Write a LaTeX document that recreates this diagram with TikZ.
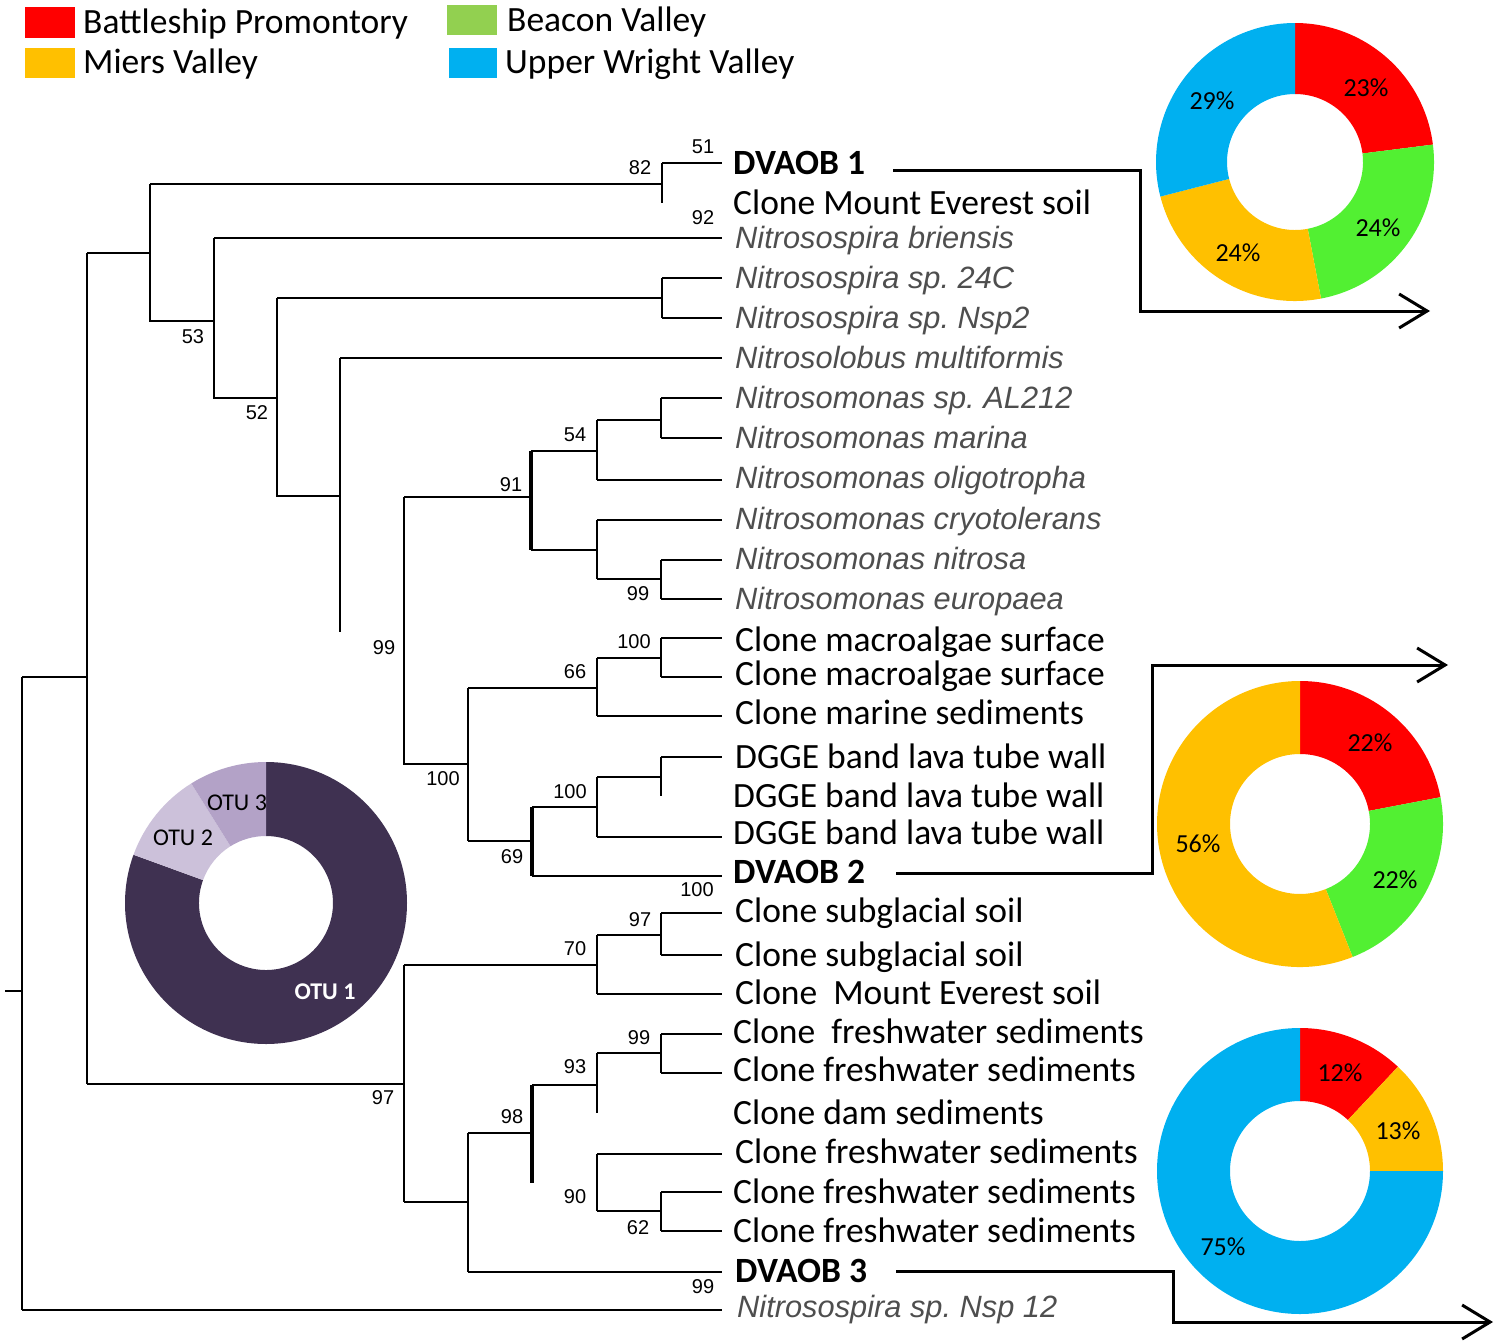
\documentclass[tikz,border=0pt]{standalone}
\usepackage{fontspec}
\setmainfont{Carlito}
\newfontfamily\arialf{Liberation Sans}
\usetikzlibrary{arrows.meta,calc}
\definecolor{cRed}{HTML}{FF0000}
\definecolor{cGreen}{HTML}{52F032}
\definecolor{cLegGreen}{HTML}{92D050}
\definecolor{cYellow}{HTML}{FFC000}
\definecolor{cBlue}{HTML}{00B0F0}
\definecolor{otuA}{HTML}{3F3151}
\definecolor{otuB}{HTML}{CCC1DA}
\definecolor{otuC}{HTML}{B3A2C7}
\definecolor{spgray}{HTML}{4E4E4E}
\newcommand\ringseg[6]{%
  \fill[#6] (#1) ++(#2:#4) arc[start angle=#2,end angle=#3,radius=#4]
    -- ($(#1)+(#3:#5)$) arc[start angle=#3,end angle=#2,radius=#5] -- cycle;}
\frenchspacing
\begin{document}
\begin{tikzpicture}[x=1pt,y=-1pt,
  br/.style={draw=black,line width=1.8pt},
  brt/.style={draw=black,line width=3.2pt},
  leaf/.style={anchor=west,inner sep=0pt,text height=27pt,text depth=5pt,font=\fontsize{35.5}{40}\selectfont},
  bleaf/.style={leaf,font=\bfseries\fontsize{35.5}{40}\selectfont},
  spec/.style={anchor=west,inner sep=0pt,text height=25pt,text depth=4pt,text=spgray,font=\arialf\itshape\fontsize{30.8}{34}\selectfont},
  boot/.style={inner sep=0pt,font=\arialf\fontsize{20}{22}\selectfont},
  legtxt/.style={anchor=west,inner sep=0pt,text height=27pt,text depth=5pt,font=\fontsize{35.5}{40}\selectfont},
  pct/.style={inner sep=0pt,font=\fontsize{26}{28}\selectfont},
  otu/.style={inner sep=0pt,font=\fontsize{24}{26}\selectfont},
  conn/.style={draw=black,line width=3pt,-{Straight Barb[length=28pt,width=34pt]}}]
\useasboundingbox (0,0) rectangle (1500,1344);
% legend
\fill[cRed] (25,7) rectangle (75,38);
\fill[cYellow] (25,48) rectangle (75,78);
\fill[cLegGreen] (447,5) rectangle (497,35);
\fill[cBlue] (449,48) rectangle (497,78);
\node[legtxt] (lg1) at (83,22) {Battleship Promontory};
\node[legtxt] (lg2) at (83,62) {Miers Valley};
\node[legtxt] (lg3) at (507,20) {Beacon Valley};
\node[legtxt] (lg4) at (505,62) {Upper Wright Valley};
% donuts
\coordinate (d1) at (1295,162);
\ringseg{d1}{90}{7.2}{139pt}{68pt}{cRed}
\ringseg{d1}{7.2}{-79.2}{139pt}{68pt}{cGreen}
\ringseg{d1}{-79.2}{-165.6}{139pt}{68pt}{cYellow}
\ringseg{d1}{-165.6}{-270}{139pt}{68pt}{cBlue}
\node[pct] (p11) at (1366,88) {23\%};
\node[pct] (p12) at (1378,228) {24\%};
\node[pct] (p13) at (1238,253) {24\%};
\node[pct] (p14) at (1212,101) {29\%};
\coordinate (d2) at (1300,824);
\ringseg{d2}{90}{10.8}{143pt}{70pt}{cRed}
\ringseg{d2}{10.8}{-68.4}{143pt}{70pt}{cGreen}
\ringseg{d2}{-68.4}{-270}{143pt}{70pt}{cYellow}
\node[pct] (p21) at (1370,743) {22\%};
\node[pct] (p22) at (1395,880) {22\%};
\node[pct] (p23) at (1198,844) {56\%};
\coordinate (d3) at (1300,1171);
\ringseg{d3}{90}{46.8}{143pt}{70pt}{cRed}
\ringseg{d3}{46.8}{0}{143pt}{70pt}{cYellow}
\ringseg{d3}{0}{-270}{143pt}{70pt}{cBlue}
\node[pct] (p31) at (1340,1073) {12\%};
\node[pct] (p32) at (1398,1131) {13\%};
\node[pct] (p33) at (1223,1247) {75\%};
\coordinate (d4) at (266,903);
\ringseg{d4}{90}{-200}{141pt}{67pt}{otuA}
\ringseg{d4}{160}{122}{141pt}{67pt}{otuB}
\ringseg{d4}{122}{90}{141pt}{67pt}{otuC}
\node[otu] (o3) at (237,803) {OTU 3};
\node[otu] (o2) at (183,838) {OTU 2};
\node[otu,text=white,font=\bfseries\fontsize{24}{26}\selectfont] (o1) at (325,992) {OTU 1};
% tree: tips
\draw[br] (662,163)--(722,163) (214,238)--(722,238) (662,278)--(722,278) (662,318)--(722,318)
  (340,358)--(722,358) (661,398)--(722,398) (661,438)--(722,438) (597,480)--(722,480)
  (597,520)--(722,520) (661,560)--(722,560) (661,599)--(722,599) (661,638)--(722,638)
  (661,677)--(722,677) (597,716)--(722,716) (661,757)--(722,757) (597,837)--(722,837)
  (532,876)--(722,876) (661,913)--(722,913) (661,955)--(722,955) (597,994)--(722,994)
  (661,1034)--(722,1034) (661,1073)--(722,1073) (597,1154)--(722,1154) (661,1192)--(722,1192)
  (661,1231)--(722,1231) (468,1272)--(722,1272) (22,1310)--(722,1310);
% tree: internal
\draw[br] (662,163)--(662,203) (150,184)--(662,184)
  (662,278)--(662,318) (277,298)--(662,298)
  (150,184)--(150,321)--(214,321)
  (214,238)--(214,398)--(277,398)
  (277,298)--(277,496)--(340,496)
  (340,358)--(340,632)
  (661,398)--(661,438) (597,420)--(661,420)
  (597,420)--(597,480) (531,451)--(597,451)
  (661,560)--(661,599) (597,579)--(661,579)
  (597,520)--(597,579) (531,550)--(597,550)
  (404,497)--(531,497)
  (404,497)--(404,764)--(468,764)
  (661,638)--(661,677) (597,658)--(661,658)
  (597,658)--(597,716) (468,688)--(597,688)
  (661,757)--(661,796) (597,777)--(661,777)
  (597,777)--(597,837) (532,807)--(597,807)
  (468,841)--(532,841) (468,688)--(468,841)
  (661,913)--(661,955) (597,935)--(661,935)
  (597,935)--(597,994) (404,965)--(597,965)
  (661,1034)--(661,1073) (597,1053)--(661,1053)
  (597,1053)--(597,1113) (532,1085)--(597,1085)
  (468,1133)--(532,1133)
  (661,1192)--(661,1231) (597,1211)--(661,1211)
  (597,1154)--(597,1211)
  (468,1133)--(468,1272) (404,1202)--(468,1202)
  (404,965)--(404,1202) (87,1084)--(404,1084)
  (87,253)--(87,1084) (87,253)--(150,253)
  (22,677)--(87,677) (22,677)--(22,1310) (5,991)--(22,991);
\draw[brt] (531,451)--(531,550) (532,807)--(532,876) (532,1085)--(532,1183);
% bootstrap values
\node[boot] (b1) at (703,147) {51};
\node[boot] (b2) at (640,168) {82};
\node[boot] (b3) at (703,218) {92};
\node[boot] (b4) at (193,337) {53};
\node[boot] (b5) at (257,413) {52};
\node[boot] (b6) at (575,435) {54};
\node[boot] (b7) at (511,485) {91};
\node[boot] (b8) at (638,594) {99};
\node[boot] (b9) at (384,648) {99};
\node[boot] (b10) at (634,642) {100};
\node[boot] (b11) at (575,672) {66};
\node[boot] (b12) at (443,779) {100};
\node[boot] (b13) at (570,792) {100};
\node[boot] (b14) at (512,857) {69};
\node[boot] (b15) at (697,890) {100};
\node[boot] (b16) at (640,920) {97};
\node[boot] (b17) at (575,949) {70};
\node[boot] (b18) at (639,1038) {99};
\node[boot] (b19) at (575,1067) {93};
\node[boot] (b20) at (383,1098) {97};
\node[boot] (b21) at (512,1117) {98};
\node[boot] (b22) at (575,1197) {90};
\node[boot] (b23) at (638,1228) {62};
\node[boot] (b24) at (703,1287) {99};
% leaves
\node[bleaf] (l1) at (733,163) {DVAOB 1};
\node[leaf] (l2) at (733,203) {Clone Mount Everest soil};
\node[spec] (l3) at (735,238) {Nitrosospira briensis};
\node[spec] (l4) at (735,278) {Nitrosospira sp. 24C};
\node[spec] (l5) at (735,318) {Nitrosospira sp. Nsp2};
\node[spec] (l6) at (735,358) {Nitrosolobus multiformis};
\node[spec] (l7) at (735,398) {Nitrosomonas sp. AL212};
\node[spec] (l8) at (735,438) {Nitrosomonas marina};
\node[spec] (l9) at (735,478) {Nitrosomonas oligotropha};
\node[spec] (l10) at (735,519) {Nitrosomonas cryotolerans};
\node[spec] (l11) at (735,559) {Nitrosomonas nitrosa};
\node[spec] (l12) at (735,599) {Nitrosomonas europaea};
\node[leaf] (l13) at (735,640) {Clone macroalgae surface};
\node[leaf] (l14) at (735,674) {Clone macroalgae surface};
\node[leaf] (l15) at (735,713) {Clone marine sediments};
\node[leaf] (l16) at (735,757) {DGGE band lava tube wall};
\node[leaf] (l17) at (733,796) {DGGE band lava tube wall};
\node[leaf] (l18) at (733,833) {DGGE band lava tube wall};
\node[bleaf] (l19) at (733,872) {DVAOB 2};
\node[leaf] (l20) at (735,911) {Clone subglacial soil};
\node[leaf] (l21) at (735,955) {Clone subglacial soil};
\node[leaf] (l22) at (735,993) {Clone\ \ Mount Everest soil};
\node[leaf] (l23) at (733,1032) {Clone\ \ freshwater sediments};
\node[leaf] (l24) at (733,1070) {Clone freshwater sediments};
\node[leaf] (l25) at (733,1113) {Clone dam sediments};
\node[leaf] (l26) at (735,1152) {Clone freshwater sediments};
\node[leaf] (l27) at (733,1192) {Clone freshwater sediments};
\node[leaf] (l28) at (733,1231) {Clone freshwater sediments};
\node[bleaf] (l29) at (735,1271) {DVAOB 3};
\node[spec] (l30) at (737,1307) {Nitrosospira sp. Nsp 12};
% connectors to charts
\coordinate (k1) at (1140,311); \coordinate (t1) at (1430,311);
\coordinate (k2) at (1152,665); \coordinate (t2) at (1448,665);
\coordinate (k3) at (1173,1322); \coordinate (t3) at (1493,1322);
\draw[conn] ([xshift=28pt,yshift=-7pt]l1.east) -| (k1) -- (t1);
\draw[conn] ([xshift=31pt,yshift=-1pt]l19.east) -| (k2) -- (t2);
\draw[conn] ([xshift=29pt]l29.east) -| (k3) -- (t3);
\end{tikzpicture}
\end{document}
